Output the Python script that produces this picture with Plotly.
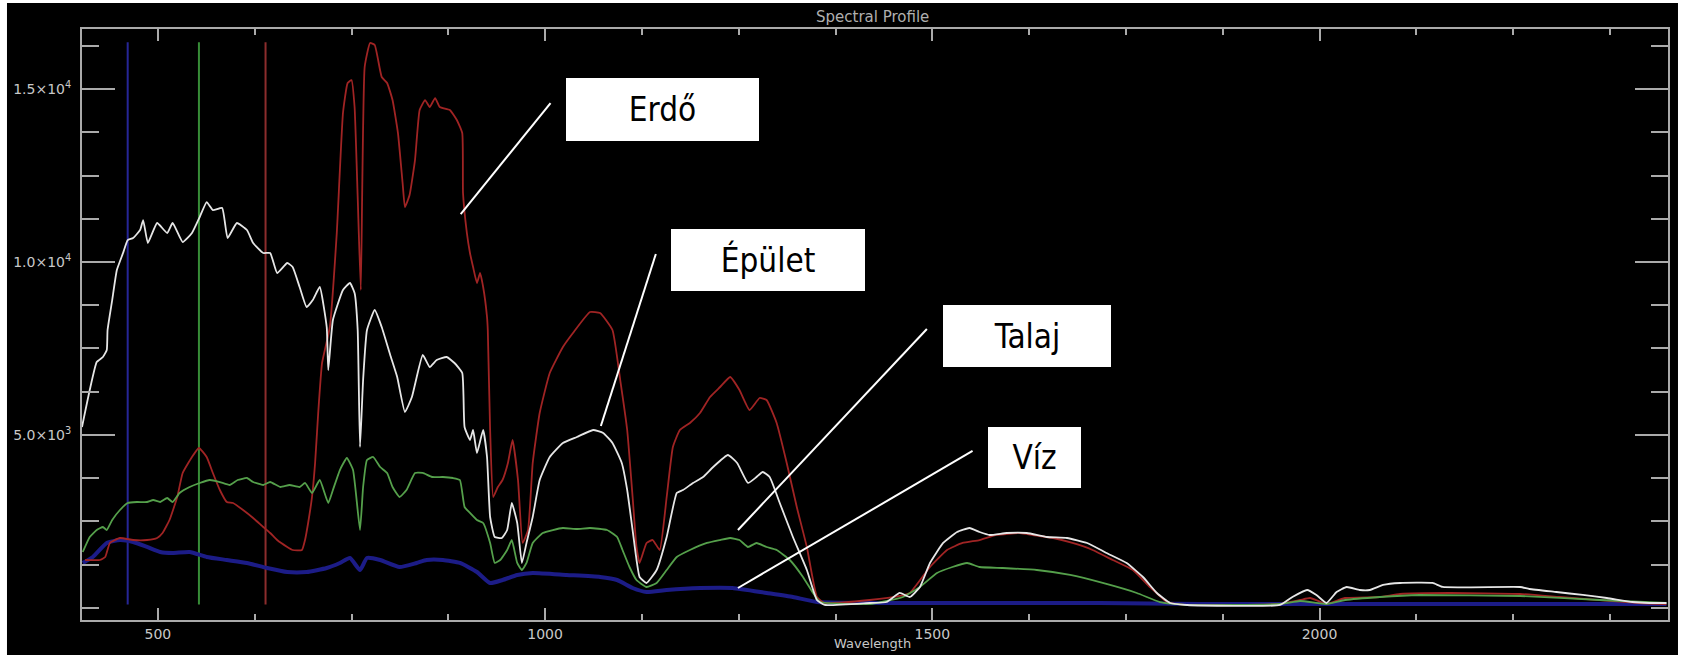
import plotly.graph_objects as go

# ---------------- data ----------------
wl_epulet = [402, 412, 421, 429, 434, 435, 441, 447, 455, 461, 468, 477, 481, 487, 499, 512, 519, 532, 544,
             554, 563, 571, 583, 590, 602, 615, 623, 636, 645, 654, 667, 674, 683, 692, 700, 709, 718, 720,
             726, 739, 748, 754, 758, 761, 765, 770, 780, 789, 800, 809, 819, 828, 842, 851, 860, 873, 883,
             893, 896, 903, 907, 912, 920, 925, 929, 935, 944, 951, 957, 964, 970, 976, 984, 993, 1006, 1023,
             1041, 1062, 1075, 1087, 1099, 1106, 1113, 1122, 1131, 1144, 1157, 1170, 1178, 1191, 1204, 1217,
             1236, 1248, 1262, 1273, 1281, 1290, 1303, 1320, 1338, 1351, 1361, 1419, 1441, 1458, 1471, 1484,
             1497, 1514, 1532, 1548, 1561, 1574, 1596, 1622, 1648, 1674, 1700, 1725, 1751, 1772, 1790, 1807,
             1829, 1949, 1965, 1984, 1996, 2009, 2022, 2035, 2052, 2065, 2082, 2104, 2146, 2159, 2259, 2271,
             2306, 2340, 2371, 2404, 2426, 2448]
val_epulet = [5231, 6300, 7109, 7254, 7456, 8034, 8901, 9768, 10260, 10635, 10693, 10924, 11213, 10549, 11127,
              10838, 11127, 10577, 10838, 11300, 11733, 11502, 11560, 10693, 11127, 10924, 10549, 10260, 10260,
              9682, 9971, 9855, 9277, 8699, 8901, 9277, 8121, 6878, 8323, 9190, 9393, 9104, 8034, 4653, 6589,
              8034, 8612, 8121, 7312, 6676, 5664, 6098, 7312, 6965, 7167, 7254, 7081, 6792, 5231, 4855, 5144,
              4480, 5144, 4364, 2630, 2052, 2023, 2254, 3035, 2457, 1301, 1879, 2630, 3699, 4364, 4769, 4942,
              5144, 5058, 4769, 4191, 3410, 2254, 896, 723, 1098, 2052, 3324, 3410, 3613, 3786, 4075, 4422,
              4191, 3613, 3786, 3930, 3786, 3035, 2052, 1098, 231, 87, 145, 173, 434, 318, 607, 1301, 1879,
              2196, 2312, 2196, 2110, 2168, 2168, 2052, 2023, 1879, 1590, 1301, 896, 434, 145, 87, 87, 318,
              520, 376, 145, 462, 607, 520, 520, 665, 723, 723, 607, 607, 549, 462, 376, 289, 173, 145, 145]

wl_erdo = [406, 425, 432, 438, 451, 468, 486, 499, 506, 515, 525, 532, 544, 553, 563, 571, 580, 589, 597, 610,
           623, 636, 645, 654, 667, 674, 686, 690, 694, 699, 703, 707, 712, 722, 731, 739, 745, 750, 754, 758,
           762, 767, 774, 780, 789, 796, 803, 810, 816, 819, 825, 832, 838, 845, 851, 858, 864, 877, 886, 893,
           894, 899, 903, 907, 912, 916, 920, 925, 926, 929, 933, 939, 945, 952, 958, 965, 971, 978, 984, 993,
           1006, 1023, 1036, 1058, 1071, 1087, 1097, 1106, 1113, 1118, 1122, 1131, 1139, 1148, 1157, 1165,
           1174, 1187, 1200, 1213, 1226, 1239, 1251, 1264, 1277, 1286, 1299, 1312, 1325, 1338, 1351, 1361,
           1419, 1458, 1471, 1497, 1519, 1539, 1561, 1583, 1613, 1630, 1656, 1681, 1707, 1733, 1759, 1781,
           1803, 1827, 1949, 1975, 1988, 2009, 2033, 2078, 2104, 2168, 2259, 2310, 2413, 2448]
val_erdo = [1387, 1387, 1474, 1879, 2023, 1965, 1965, 2023, 2168, 2543, 3208, 3902, 4364, 4624, 4364, 3902,
            3410, 3063, 3035, 2832, 2601, 2341, 2168, 1965, 1763, 1676, 1676, 1965, 2457, 3208, 4191, 5636,
            7081, 8121, 10838, 14306, 15173, 15259, 14479, 11878, 9190, 15635, 16329, 16271, 15346, 15173,
            14681, 13728, 12283, 11589, 11936, 12947, 14392, 14681, 14479, 14739, 14479, 14392, 14103, 13728,
            11994, 10838, 10260, 9855, 9393, 9682, 9277, 8410, 8034, 5144, 3208, 3497, 3699, 4191, 4855, 3699,
            1879, 2254, 4191, 5636, 6792, 7543, 7948, 8554, 8526, 8034, 6589, 5144, 3208, 1763, 1301, 1879,
            1965, 1676, 3208, 4653, 5144, 5347, 5636, 6098, 6387, 6676, 6300, 5722, 6069, 6011, 5347, 4191,
            2919, 1763, 318, 145, 231, 347, 434, 1185, 1676, 1879, 1965, 2110, 2168, 2110, 2023, 1879, 1676,
            1387, 1098, 607, 173, 87, 116, 231, 289, 116, 289, 318, 405, 434, 405, 318, 145, 116]

wl_talaj = [403, 412, 421, 429, 434, 441, 451, 461, 473, 486, 494, 503, 512, 519, 528, 541, 554, 567, 580, 593,
            603, 615, 623, 636, 645, 658, 670, 683, 690, 699, 709, 720, 726, 735, 744, 752, 761, 765, 770, 778,
            787, 796, 803, 812, 821, 832, 842, 854, 868, 881, 890, 896, 903, 912, 920, 929, 935, 942, 951, 957,
            964, 970, 976, 984, 997, 1010, 1023, 1041, 1058, 1080, 1093, 1100, 1109, 1118, 1131, 1144, 1157,
            1170, 1187, 1209, 1226, 1239, 1251, 1262, 1273, 1286, 1299, 1316, 1333, 1346, 1355, 1419, 1441,
            1462, 1484, 1506, 1526, 1545, 1561, 1591, 1635, 1678, 1720, 1764, 1794, 1826, 1949, 1975, 2009,
            2033, 2078, 2129, 2259, 2362, 2448]
val_talaj = [1618, 2052, 2254, 2341, 2254, 2543, 2832, 3035, 3063, 3063, 3121, 3063, 3179, 3063, 3324, 3497,
             3613, 3699, 3641, 3555, 3699, 3757, 3641, 3555, 3641, 3497, 3555, 3497, 3613, 3324, 3699, 3035,
             3410, 3988, 4335, 3988, 2254, 3497, 4277, 4364, 4075, 3902, 3497, 3208, 3410, 3902, 3902, 3786,
             3786, 3757, 3699, 2919, 2746, 2543, 2457, 1879, 1301, 1387, 1676, 1965, 1301, 1098, 1301, 1879,
             2168, 2254, 2312, 2283, 2312, 2254, 2052, 1676, 1185, 809, 607, 723, 1098, 1474, 1676, 1879, 1965,
             2023, 1965, 1763, 1879, 1763, 1676, 1387, 896, 434, 173, 116, 202, 318, 607, 1012, 1185, 1301,
             1185, 1156, 1098, 954, 723, 434, 173, 87, 116, 202, 116, 231, 318, 376, 347, 231, 145]

wl_viz = [403, 416, 434, 451, 468, 486, 503, 519, 541, 563, 589, 615, 641, 667, 692, 718, 735, 748, 761, 770,
          787, 812, 834, 847, 868, 890, 912, 929, 945, 964, 984, 1028, 1071, 1093, 1113, 1131, 1157, 1200, 1242,
          1286, 1320, 1351, 1458, 1587, 1716, 1845, 1974, 2104, 2233, 2448]
val_viz = [1301, 1474, 1879, 1965, 1907, 1763, 1618, 1590, 1618, 1474, 1387, 1301, 1156, 1040, 1040, 1156,
           1301, 1445, 1098, 1445, 1387, 1185, 1301, 1387, 1387, 1301, 1040, 723, 809, 954, 1012, 954, 896,
           809, 578, 462, 520, 578, 578, 434, 318, 173, 145, 145, 145, 116, 116, 116, 116, 116]

band_wl = [461, 553, 639]
band_span = [100, 16350]

labels = ["Erdő", "Épület", "Talaj", "Víz"]
label_box_center = [(1151, 14408), (1288, 10058), (1622, 7861), (1632, 4350)]
label_box_size = [(193, 63), (194, 62), (168, 62), (93, 61)]
leader_start = [(1007, 14595), (1143, 10231), (1493, 8064), (1552, 4538)]
leader_end = [(891, 11387), (1072, 5260), (1249, 2254), (1249, 578)]

y_ticks = [5000, 10000, 15000]
y_ticktext = ["5.0×10<sup>3</sup>", "1.0×10<sup>4</sup>", "1.5×10<sup>4</sup>"]
x_ticks = [500, 1000, 1500, 2000]

# ---------------- figure ----------------
band_colors = ["rgb(38,38,150)", "rgb(55,140,55)", "rgb(140,45,45)"]
fig = go.Figure()
for wl, col in zip(band_wl, band_colors):
    fig.add_trace(go.Scatter(x=[wl, wl], y=band_span, mode="lines",
                             line=dict(color=col, width=2), showlegend=False, hoverinfo="skip"))

fig.add_trace(go.Scatter(x=wl_viz, y=val_viz, mode="lines", name="Víz",
                         line=dict(color="rgb(28,28,135)", width=4, shape="spline", smoothing=0.5)))
fig.add_trace(go.Scatter(x=wl_erdo, y=val_erdo, mode="lines", name="Erdő",
                         line=dict(color="rgb(160,36,36)", width=1.8, shape="spline", smoothing=0.4)))
fig.add_trace(go.Scatter(x=wl_talaj, y=val_talaj, mode="lines", name="Talaj",
                         line=dict(color="rgb(85,160,75)", width=1.8, shape="spline", smoothing=0.4)))
fig.add_trace(go.Scatter(x=wl_epulet, y=val_epulet, mode="lines", name="Épület",
                         line=dict(color="rgb(230,230,230)", width=1.8, shape="spline", smoothing=0.4)))

shapes = [dict(type="rect", xref="paper", yref="paper", x0=-0.0473, x1=1.0063, y0=-0.0592, y1=1.044,
               fillcolor="black", line=dict(width=0), layer="below")]
for (x0, y0), (x1, y1) in zip(leader_start, leader_end):
    shapes.append(dict(type="line", xref="x", yref="y", x0=x0, y0=y0, x1=x1, y1=y1,
                       line=dict(color="white", width=2)))

annotations = []
for lab, (cx, cy), (w, h) in zip(labels, label_box_center, label_box_size):
    annotations.append(dict(x=cx, y=cy, xref="x", yref="y", text=lab, showarrow=False,
                            width=w, height=h, bgcolor="white", borderpad=0, borderwidth=0,
                            align="center", valign="middle",
                            font=dict(family="Liberation Sans Narrow, Arial Narrow, DejaVu Sans Condensed, sans-serif",
                                      size=33, color="black")))
annotations.append(dict(x=0.4987, y=1.0203, xref="paper", yref="paper", text="Spectral Profile",
                        showarrow=False, xanchor="center", yanchor="middle",
                        font=dict(family="DejaVu Sans", size=15, color="rgb(175,175,175)")))
annotations.append(dict(x=0.4987, y=-0.039, xref="paper", yref="paper", text="Wavelength",
                        showarrow=False, xanchor="center", yanchor="middle",
                        font=dict(family="DejaVu Sans", size=13, color="rgb(200,200,200)")))

axis_col = "rgb(170,170,170)"
fig.update_layout(
    width=1683, height=657,
    margin=dict(l=82, r=15, t=29, b=37),
    paper_bgcolor="white", plot_bgcolor="black",
    showlegend=False,
    shapes=shapes, annotations=annotations,
    xaxis=dict(range=[402, 2450], showgrid=False, zeroline=False, showline=True, linecolor=axis_col,
               linewidth=2, mirror="allticks", ticks="inside", ticklen=12, tickwidth=2, tickcolor=axis_col,
               tickvals=x_ticks, ticktext=[str(v) for v in x_ticks],
               tickfont=dict(family="DejaVu Sans", size=14, color="rgb(200,200,200)"),
               minor=dict(ticks="inside", ticklen=6, tickwidth=2, tickcolor=axis_col, tick0=0, dtick=125,
                          showgrid=False)),
    yaxis=dict(range=[-347, 16734], showgrid=False, zeroline=False, showline=True, linecolor=axis_col,
               linewidth=2, mirror="allticks", ticks="inside", ticklen=33, tickwidth=2, tickcolor=axis_col,
               tickvals=y_ticks, ticktext=y_ticktext, ticklabelstandoff=6,
               tickfont=dict(family="DejaVu Sans", size=14, color="rgb(200,200,200)"),
               minor=dict(ticks="inside", ticklen=17, tickwidth=2, tickcolor=axis_col, tick0=0, dtick=1250,
                          showgrid=False)),
)

fig.write_html("out.html", config={"displayModeBar": False},
               post_script="document.body.style.margin='0';")
